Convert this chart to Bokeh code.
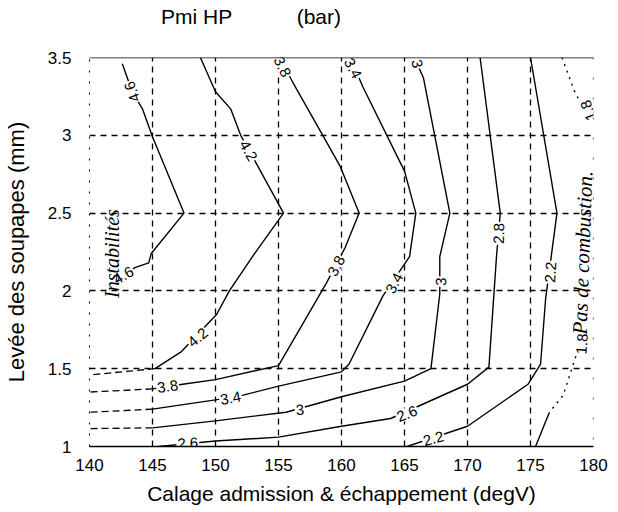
import math
from bokeh.plotting import figure
from bokeh.models import (ColumnDataSource, Span, FixedTicker, Range1d, NumeralTickFormatter,
                          LinearAxis)
from bokeh.core.properties import value
from bokeh.embed import file_html
from bokeh.resources import INLINE

# ---- axis ticks ----
x_ticks = [140, 145, 150, 155, 160, 165, 170, 175, 180]
y_ticks = [1, 1.5, 2, 2.5, 3, 3.5]
x_grid = [145, 150, 155, 160, 165, 170, 175]
y_grid = [1.5, 2, 2.5, 3]

# ---- heading texts (placed as labels of a top axis) ----
head_text = ["Pmi HP", "(bar)"]
head_pos = [148.5, 158.2]

# ---- contour lines (solid parts) ----
lvl46_x = [142.6, 143.4, 144.2, 145.0, 147.5, 144.9, 144.7, 143.6, 142.7]
lvl46_y = [3.46, 3.28, 3.17, 2.99, 2.50, 2.24, 2.18, 2.15, 2.10]

lvl42_x = [148.8, 150.0, 151.2, 152.0, 153.3, 155.4, 153.1, 151.1, 150.1, 147.3, 145.2]
lvl42_y = [3.50, 3.28, 3.17, 3.00, 2.81, 2.50, 2.24, 2.00, 1.85, 1.61, 1.50]

lvl38_x = [155.1, 156.2, 158.3, 159.9, 161.4, 160.3, 158.8, 155.0, 150.0, 147.4, 145.0]
lvl38_y = [3.50, 3.33, 3.03, 2.80, 2.50, 2.28, 2.05, 1.52, 1.43, 1.40, 1.37]

lvl34_x = [160.7, 161.7, 165.0, 165.9, 165.4, 163.3, 160.6, 160.0, 155.1, 152.2, 150.0, 145.0]
lvl34_y = [3.50, 3.31, 2.77, 2.50, 2.22, 1.97, 1.53, 1.48, 1.39, 1.33, 1.30, 1.24]

lvl30_x = [166.0, 166.5, 168.6, 167.8, 167.8, 167.1, 165.0, 160.0, 155.6, 150.0, 145.0]
lvl30_y = [3.46, 3.37, 2.50, 2.22, 1.98, 1.50, 1.42, 1.32, 1.22, 1.165, 1.12]

lvl26_x = [171.0, 172.6, 172.3, 171.7, 170.0, 166.4, 163.9, 160.0, 155.0, 150.0, 145.5]
lvl26_y = [3.50, 2.50, 2.22, 1.51, 1.40, 1.27, 1.18, 1.13, 1.06, 1.035, 1.00]

lvl22_x = [175.0, 177.1, 176.2, 175.8, 174.8, 170.0, 165.2]
lvl22_y = [3.50, 2.50, 1.95, 1.53, 1.40, 1.13, 1.00]

lvl18_x = [176.5, 175.4]
lvl18_y = [1.22, 1.00]

# ---- dashed extensions (x < 145) ----
ext42_x = [145.2, 140.0]; ext42_y = [1.50, 1.46]
ext38_x = [145.0, 140.0]; ext38_y = [1.37, 1.35]
ext34_x = [145.0, 140.0]; ext34_y = [1.24, 1.22]
ext30_x = [145.0, 140.0]; ext30_y = [1.12, 1.115]

# ---- dotted parts of the 1.8 line ----
dot18a_x = [177.5, 178.6, 179.6]; dot18a_y = [3.50, 3.26, 3.15]
dot18b_x = [179.1, 178.6, 177.6, 176.5]; dot18b_y = [1.66, 1.58, 1.33, 1.22]

# ---- contour labels ----
lab_text = ["4.6", "4.6", "4.2", "4.2", "3.8", "3.8", "3.8", "3.4", "3.4", "3.4",
            "3", "3", "3", "2.8", "2.6", "2.6", "2.2", "2.2", "1.8", "1.8"]
lab_x = [143.4, 142.7, 152.6, 148.6, 155.3, 159.6, 146.2, 160.9, 164.2, 151.2,
         166.0, 167.9, 156.7, 172.5, 165.2, 147.8, 176.6, 167.3, 179.6, 179.1]
lab_y = [3.28, 2.10, 2.90, 1.70, 3.44, 2.16, 1.385, 3.43, 2.05, 1.31,
         3.46, 2.06, 1.235, 2.37, 1.21, 1.02, 2.12, 1.05, 3.16, 1.66]
lab_deg = [110, 30, -60, 40, -65, 62, 8, -62, 62, 10,
           -78, 88, 5, 88, 22, 3, 86, 15, 110, 85]

p = figure(width=618, height=512, output_backend="svg", toolbar_location=None,
           x_range=Range1d(140, 180), y_range=Range1d(1, 3.5),
           min_border_left=89, min_border_right=25, min_border_top=57, min_border_bottom=66)
p.outline_line_color = None
p.background_fill_color = "white"

# grid
p.xgrid.ticker = FixedTicker(ticks=x_grid)
p.ygrid.ticker = FixedTicker(ticks=y_grid)
for g in (p.xgrid, p.ygrid):
    g.grid_line_color = "black"
    g.grid_line_dash = "6 5"
    g.grid_line_width = 1.3

# axes
p.xaxis.ticker = FixedTicker(ticks=x_ticks)
p.yaxis.ticker = FixedTicker(ticks=y_ticks)
p.yaxis.formatter = NumeralTickFormatter(format="0.[0]")
for ax in (p.xaxis, p.yaxis):
    ax.major_tick_line_color = None
    ax.minor_tick_line_color = None
    ax.major_label_text_font = "Liberation Sans"
    ax.major_label_text_font_size = "17px"
    ax.major_label_text_color = "black"
    ax.axis_label_text_font = "Liberation Sans"
    ax.axis_label_text_font_size = "21px"
    ax.axis_label_text_font_style = "normal"
    ax.axis_label_text_color = "black"
    ax.axis_line_color = "black"
p.yaxis.axis_label_text_font_size = "22px"
p.xaxis.axis_line_width = 1.5
p.yaxis.axis_line_dash = "2 9"
p.xaxis.major_label_standoff = 6
p.yaxis.major_label_standoff = 12
p.xaxis.axis_label_standoff = 8
p.yaxis.axis_label_standoff = 16
p.xaxis.axis_label = "Calage admission & échappement (degV)"
p.yaxis.axis_label = "Levée des soupapes (mm)"

# heading via a top axis whose only tick labels are the heading texts
top = LinearAxis(ticker=FixedTicker(ticks=head_pos),
                 major_label_overrides={k: v for k, v in zip(head_pos, head_text)},
                 axis_line_color=None, major_tick_line_color=None, minor_tick_line_color=None,
                 major_label_text_font="Liberation Sans", major_label_text_font_size="21px",
                 major_label_text_color="black", major_label_standoff=24)
p.add_layout(top, "above")

p.add_layout(Span(location=3.5, dimension="width", line_color="black", line_width=1.5))
p.add_layout(Span(location=180, dimension="height", line_color="black", line_width=1.3, line_dash="2 18"))

# contours
for xs, ys in [(lvl46_x, lvl46_y), (lvl42_x, lvl42_y), (lvl38_x, lvl38_y), (lvl34_x, lvl34_y),
               (lvl30_x, lvl30_y), (lvl26_x, lvl26_y), (lvl22_x, lvl22_y), (lvl18_x, lvl18_y)]:
    p.line(xs, ys, line_color="black", line_width=1.4)
for xs, ys in [(ext42_x, ext42_y), (ext38_x, ext38_y), (ext34_x, ext34_y), (ext30_x, ext30_y)]:
    p.line(xs, ys, line_color="black", line_width=1.3, line_dash="7 4")
for xs, ys in [(dot18a_x, dot18a_y), (dot18b_x, dot18b_y)]:
    p.line(xs, ys, line_color="black", line_width=1.4, line_dash="2 5")

src = ColumnDataSource(dict(x=lab_x, y=lab_y, t=lab_text, a=[math.radians(d) for d in lab_deg]))
p.text(x="x", y="y", text="t", angle="a", source=src,
       text_font=value("Liberation Sans"), text_font_size="15px",
       text_align="center", text_baseline="middle", text_color="black",
       background_fill_color="white", padding=1)

p.text(x=[141.8], y=[2.24], text=["Instabilités"], angle=[math.radians(90)],
       text_font=value("Liberation Serif"), text_font_style="italic", text_font_size="20px",
       text_align="center", text_baseline="middle", text_color="black")
p.text(x=[178.9], y=[1.72], text=["Pas de combustion."], angle=[math.radians(88)],
       text_font=value("Liberation Serif"), text_font_style="italic", text_font_size="21px",
       text_align="left", text_baseline="middle", text_color="black")

open("out.html", "w").write(file_html(p, INLINE))
